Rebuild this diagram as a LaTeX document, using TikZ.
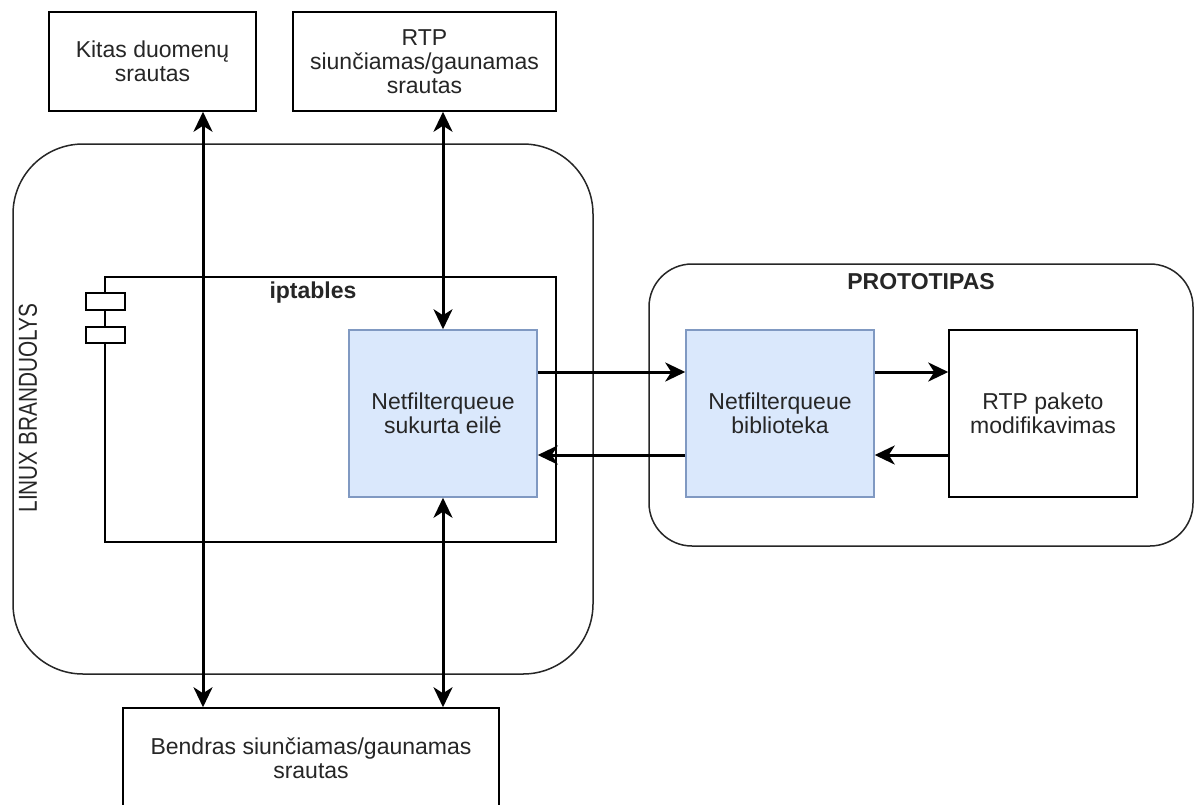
\documentclass[tikz,border=0pt]{standalone}
\usepackage{fontspec}
\setmainfont{Liberation Sans}
\usetikzlibrary{arrows.meta,calc}
\definecolor{nffill}{HTML}{DAE8FC}
\definecolor{nfstroke}{HTML}{8099C2}
\definecolor{textdark}{HTML}{262626}
\begin{document}
\begin{tikzpicture}[x=1pt,y=-1pt,
  every node/.style={font=\fontsize{23}{24}\selectfont, align=center, inner sep=0pt, text=textdark},
  box/.style={draw=black, line width=1.5pt, fill=white},
  nfq/.style={draw=nfstroke, line width=1.5pt, fill=nffill},
  grp/.style={draw=black!85, line width=1.5pt},
  tip/.tip={Stealth[length=20pt,width=19pt,inset=6pt]},
  flow/.style={line width=3pt, -tip},
  biflow/.style={line width=3pt, tip-tip},
  heading/.style={font=\fontsize{23}{26}\selectfont\bfseries},
]
\useasboundingbox (0,0) rectangle (1194,804);
\fill[white] (0,0) rectangle (1194,804);

% kernel and prototype containers
\node[grp, rounded corners=70pt, minimum width=580pt, minimum height=530pt] (linux) at (303,409) {};
\node[rotate=90, font=\fontsize{26}{28}\selectfont] (linuxlbl) at (28,408) {\scalebox{0.8}[1]{LINUX BRANDUOLYS}};
\node[grp, rounded corners=43pt, minimum width=544pt, minimum height=282pt] (proto) at (921,405) {};
\node[heading] (protolbl) at (921,282) {PROTOTIPAS};

% iptables component
\node[draw=black, line width=1.5pt, minimum width=451pt, minimum height=265pt] (ipt) at (330.5,409.5) {};
\node[box, minimum width=39pt, minimum height=17pt] (port1) at (105.5,301.5) {};
\node[box, minimum width=39pt, minimum height=16pt] (port2) at (105.5,335) {};
\node[heading] (iptlbl) at (313,293) {iptables};

% queue and library
\node[nfq, minimum width=188pt, minimum height=167pt] (nf1) at (443,413.5) {Netfilterqueue\\sukurta eilė};
\node[nfq, minimum width=188pt, minimum height=167pt] (nf2) at (780,413.5) {Netfilterqueue\\biblioteka};
\node[box, minimum width=188pt, minimum height=167pt] (rtpmod) at (1043,413.5) {RTP paketo\\modifikavimas};

% traffic streams
\node[box, minimum width=207pt, minimum height=99pt] (kitas) at (152.5,61.5) {Kitas duomenų\\srautas};
\node[box, minimum width=263pt, minimum height=99pt] (rtp) at (424.5,61.5) {RTP\\siunčiamas/gaunamas\\srautas};
\node[box, minimum width=376pt, minimum height=100pt] (bendras) at (311,758) {Bendras siunčiamas/gaunamas\\srautas};

% connectors
\draw[biflow] ([xshift=50.5pt]kitas.south) -- ([xshift=50.5pt]kitas.south |- bendras.north);
\draw[biflow] (nf1.north) -- (nf1.north |- rtp.south);
\draw[biflow] (nf1.south) -- (nf1.south |- bendras.north);
\draw[flow] ([yshift=41.5pt]nf1.east) -- ([yshift=41.5pt]nf2.west);
\draw[flow] ([yshift=-41.5pt]nf2.west) -- ([yshift=-41.5pt]nf1.east);
\draw[flow] ([yshift=41.5pt]nf2.east) -- ([yshift=41.5pt]rtpmod.west);
\draw[flow] ([yshift=-41.5pt]rtpmod.west) -- ([yshift=-41.5pt]nf2.east);
\end{tikzpicture}
\end{document}
